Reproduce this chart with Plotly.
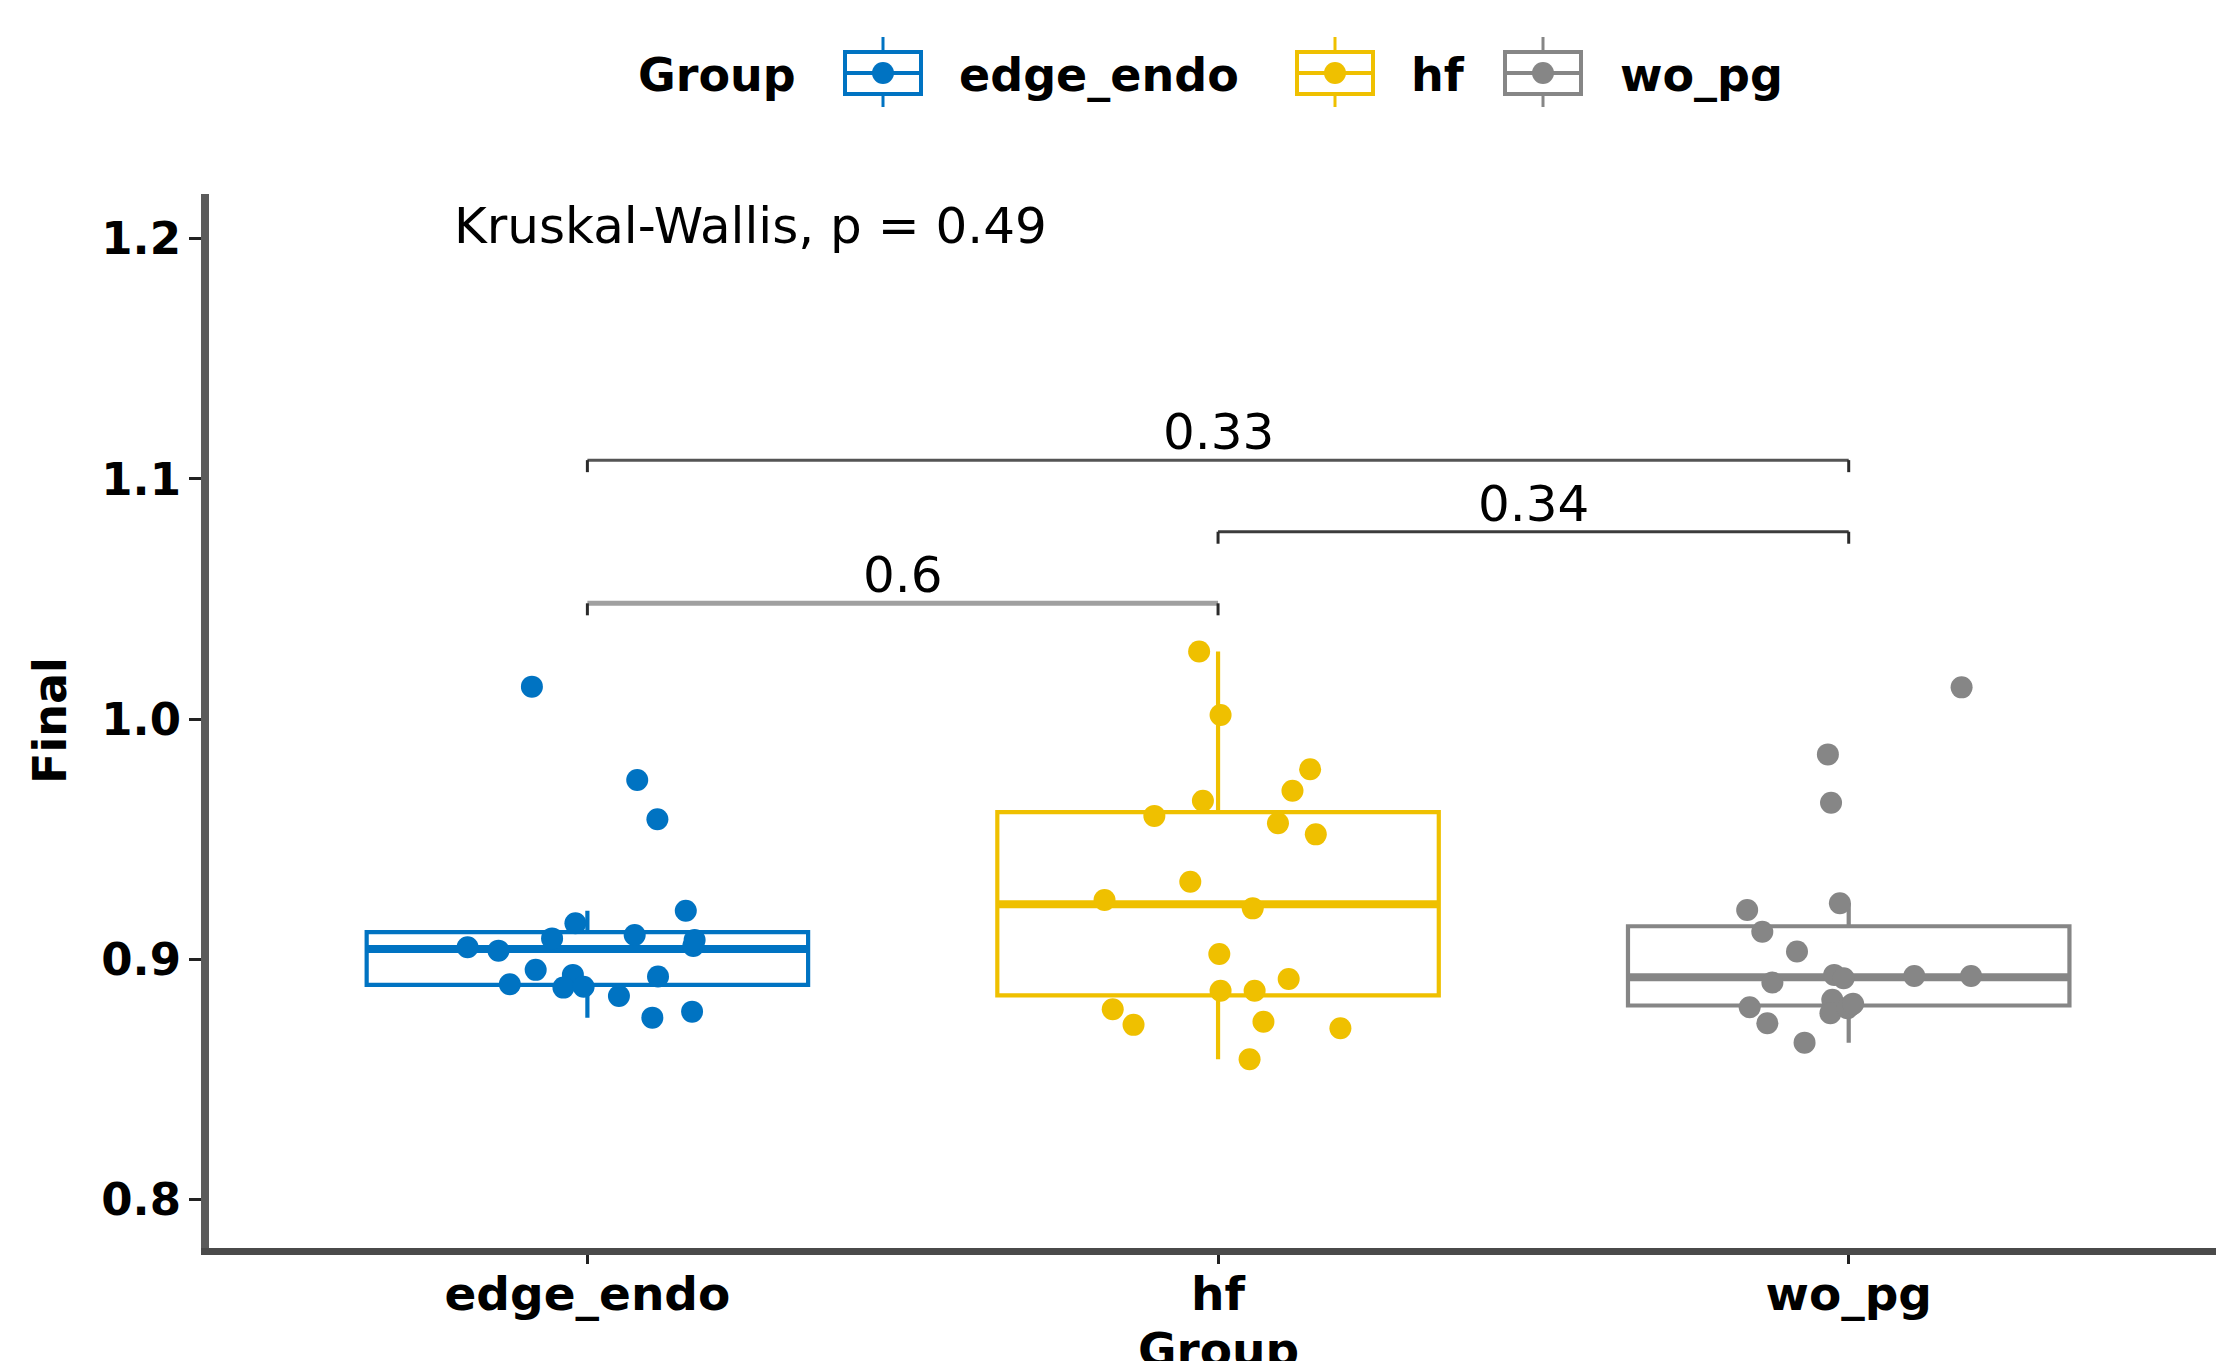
import numpy as np
import plotly.graph_objects as go

# ---------------- data ----------------
groups = ["edge_endo", "hf", "wo_pg"]
colors = ["#0073C2", "#EFC000", "#868686"]

edge_endo_values = [1.0135, 0.9746, 0.9583, 0.9202, 0.9150, 0.9101, 0.9087, 0.9050, 0.9036, 0.9055,
                    0.8956, 0.8896, 0.8935, 0.8882, 0.8886, 0.8928, 0.8847, 0.8757, 0.8782, 0.9080]
edge_endo_jitter = [-0.088, 0.079, 0.111, 0.156, -0.019, 0.075, -0.056, -0.190, -0.141, 0.168,
                    -0.082, -0.123, -0.023, -0.038, -0.006, 0.112, 0.050, 0.103, 0.166, 0.170]

hf_values = [1.0281, 1.0017, 0.9791, 0.9702, 0.9660, 0.9597, 0.9566, 0.9520, 0.9323, 0.9247,
             0.9212, 0.9022, 0.8918, 0.8869, 0.8869, 0.8792, 0.8727, 0.8740, 0.8713, 0.8584]
hf_jitter = [-0.030, 0.004, 0.146, 0.118, -0.024, -0.101, 0.095, 0.155, -0.044, -0.180,
             0.055, 0.002, 0.112, 0.004, 0.058, -0.167, -0.134, 0.072, 0.194, 0.050]

wo_pg_values = [1.0132, 0.9853, 0.9652, 0.9205, 0.9233, 0.9115, 0.9032, 0.8935, 0.8930, 0.8930,
                0.8903, 0.8800, 0.8734, 0.8831, 0.8810, 0.8775, 0.8653, 0.8921, 0.8796, 0.8815]
wo_pg_jitter = [0.179, -0.033, -0.028, -0.161, -0.014, -0.137, -0.082, -0.023, 0.104, 0.194,
                -0.121, -0.157, -0.129, -0.026, 0.004, -0.029, -0.070, -0.008, -0.002, 0.007]

values = [edge_endo_values, hf_values, wo_pg_values]
jitters = [edge_endo_jitter, hf_jitter, wo_pg_jitter]

# pairwise comparisons: (group a, group b, label, bracket height)
comp_a = [0, 1, 0]
comp_b = [1, 2, 2]
comp_labels = ["0.6", "0.34", "0.33"]
comp_y = [1.0482, 1.0780, 1.1078]
comp_colors = ["#a0a0a0", "#3c3c3c", "#555555"]
comp_widths = [5, 3, 3]

kw_label = "Kruskal-Wallis, p = 0.49"
y_ticks = [0.8, 0.9, 1.0, 1.1, 1.2]

# ---------------- layout geometry ----------------
W, H = 2216, 1361
ML, MR, MT, MB = 209, 0, 194, 113
PW, PH = W - ML - MR, H - MT - MB
XR = [-0.6, 2.5824]
YR = [0.7798, 1.2186]
BOX_W = 0.7

def px(x):
    return (x - ML) / PW

def py(y):
    return (H - MB - y) / PH

BOLD = dict(family="DejaVu Sans", size=46, color="black", weight="bold")
BOLD_TICK = dict(family="DejaVu Sans", size=47, color="black", weight="bold")
BOLD_Y = dict(family="DejaVu Sans", size=45, color="black", weight="bold")
REG = dict(family="DejaVu Sans", size=50, color="black")

fig = go.Figure()

# boxes (ggplot-style quartiles, whiskers to last point within 1.5 IQR)
for i, g in enumerate(groups):
    v = np.asarray(values[i])
    q1, med, q3 = np.percentile(v, [25, 50, 75])
    iqr = q3 - q1
    lf = v[v >= q1 - 1.5 * iqr].min()
    uf = v[v <= q3 + 1.5 * iqr].max()
    fig.add_trace(go.Box(
        x=[i], q1=[q1], median=[med], q3=[q3], lowerfence=[lf], upperfence=[uf],
        name=g, width=BOX_W, fillcolor="white",
        line=dict(color=colors[i], width=4.2), whiskerwidth=0,
        showlegend=False, hoverinfo="skip",
    ))
    # thicker median line (ggplot fatten)
    fig.add_trace(go.Scatter(
        x=[i - BOX_W / 2, i + BOX_W / 2], y=[med, med], mode="lines",
        line=dict(color=colors[i], width=8), showlegend=False, hoverinfo="skip",
    ))

# jittered points
for i, g in enumerate(groups):
    fig.add_trace(go.Scatter(
        x=[i + j for j in jitters[i]], y=values[i], mode="markers",
        marker=dict(color=colors[i], size=22, line=dict(width=0)),
        showlegend=False, name=g,
    ))

# comparison brackets
TIP = 0.005
for a, b, lab, yv, c, w in zip(comp_a, comp_b, comp_labels, comp_y, comp_colors, comp_widths):
    fig.add_trace(go.Scatter(
        x=[a, b], y=[yv, yv], mode="lines",
        line=dict(color=c, width=w), showlegend=False, hoverinfo="skip",
    ))
    for xe in (a, b):
        fig.add_trace(go.Scatter(
            x=[xe, xe], y=[yv, yv - TIP], mode="lines",
            line=dict(color="#2b2b2b", width=3), showlegend=False, hoverinfo="skip",
        ))
    fig.add_annotation(x=(a + b) / 2, y=yv, xref="x", yref="y", text=lab,
                       showarrow=False, yanchor="bottom", yshift=-3, font=REG)

# Kruskal-Wallis label
fig.add_annotation(x=px(452), y=py(226), xref="paper", yref="paper", text=kw_label,
                   showarrow=False, xanchor="left", yanchor="middle", font=REG)

# axis titles
fig.add_annotation(x=px(50), y=py(721), xref="paper", yref="paper", text="Final",
                   textangle=-90, showarrow=False, xanchor="center", yanchor="middle",
                   font=BOLD)
fig.add_annotation(x=1, y=py(1320), xref="x", yref="paper", text="Group",
                   showarrow=False, xanchor="center", yanchor="top", font=BOLD_TICK)

# custom legend
fig.add_annotation(x=px(636), y=py(75), xref="paper", yref="paper", text="Group",
                   showarrow=False, xanchor="left", yanchor="middle", font=BOLD)
icon_left = [845, 1297, 1505]
text_left = [957, 1409, 1618]
shapes = []
for i, g in enumerate(groups):
    x0, x1 = icon_left[i], icon_left[i] + 76
    xc = (x0 + x1) / 2
    c = colors[i]
    shapes.append(dict(type="line", xref="paper", yref="paper",
                       x0=px(xc), x1=px(xc), y0=py(37), y1=py(107),
                       line=dict(color=c, width=3)))
    shapes.append(dict(type="rect", xref="paper", yref="paper",
                       x0=px(x0), x1=px(x1), y0=py(52), y1=py(94),
                       line=dict(color=c, width=4), fillcolor="white"))
    shapes.append(dict(type="line", xref="paper", yref="paper",
                       x0=px(x0), x1=px(x1), y0=py(73), y1=py(73),
                       line=dict(color=c, width=4)))
    shapes.append(dict(type="circle", xref="paper", yref="paper",
                       x0=px(xc - 11), x1=px(xc + 11), y0=py(62), y1=py(84),
                       line=dict(color=c, width=0), fillcolor=c))
    fig.add_annotation(x=px(text_left[i]), y=py(75), xref="paper", yref="paper", text=g,
                       showarrow=False, xanchor="left", yanchor="middle", font=BOLD)

fig.update_layout(
    width=W, height=H,
    margin=dict(l=ML, r=MR, t=MT, b=MB, pad=0),
    paper_bgcolor="white", plot_bgcolor="white",
    showlegend=False, boxmode="overlay",
    shapes=shapes,
    xaxis=dict(range=XR, tickmode="array", tickvals=[0, 1, 2], ticktext=groups,
               showgrid=False, zeroline=False, showline=True, linewidth=7,
               linecolor="#4a4a4a", ticks="outside", ticklen=9, tickwidth=3,
               tickcolor="#222222", tickfont=BOLD_TICK, ticklabelstandoff=-10),
    yaxis=dict(range=YR, tickmode="array", tickvals=y_ticks,
               ticktext=[f"{v:.1f}" for v in y_ticks],
               showgrid=False, zeroline=False, showline=True, linewidth=8,
               linecolor="#5b5b5b", ticks="outside", ticklen=12, tickwidth=3,
               tickcolor="#222222", tickfont=BOLD_Y, ticklabelstandoff=-1),
)

fig.write_html(
    "out.html",
    config={"displayModeBar": False},
    post_script="document.body.style.margin='0';document.body.style.padding='0';"
                "document.body.style.overflow='hidden';",
)
